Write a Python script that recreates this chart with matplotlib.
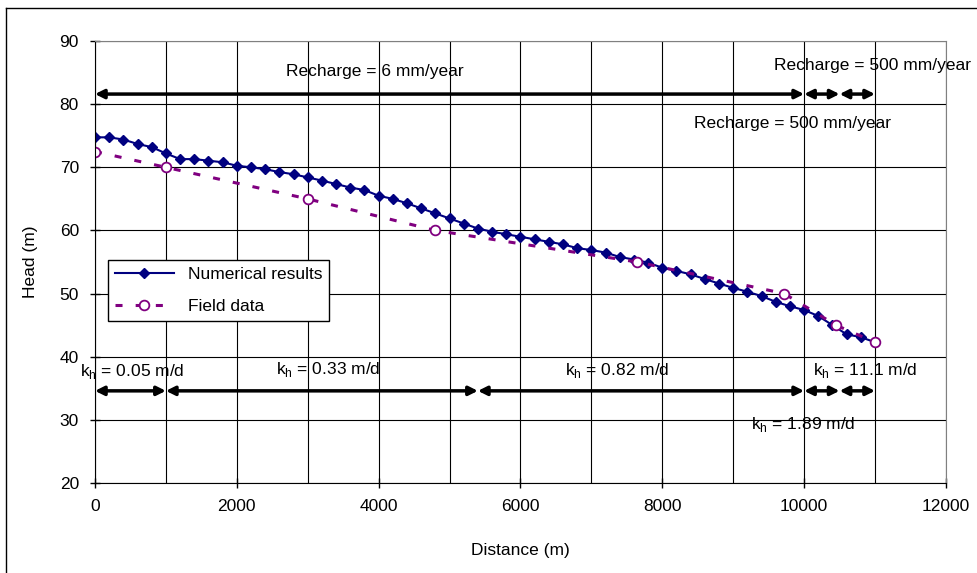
import matplotlib.pyplot as plt
from matplotlib.ticker import MultipleLocator
from matplotlib.lines import Line2D

plt.rcParams["font.family"] = ["Liberation Sans", "DejaVu Sans"]

# numerical results, every 200 m
numX = list(range(0, 11001, 200))
numY = [74.75, 74.75, 74.4, 73.7, 73.2, 72.2, 71.3, 71.3, 71.05, 70.8,
        70.25, 70.0, 69.7, 69.25, 68.9, 68.4, 67.9, 67.35, 66.8, 66.4,
        65.5, 65.0, 64.3, 63.5, 62.7, 61.9, 61.1, 60.3, 59.8, 59.4,
        59.0, 58.6, 58.2, 57.8, 57.2, 56.9, 56.5, 55.8, 55.4, 54.9,
        54.1, 53.6, 53.05, 52.3, 51.6, 50.9, 50.3, 49.6, 48.7, 48.0,
        47.4, 46.45, 45.0, 43.55, 43.1, 42.3]

# field data
fieldX = [0, 1000, 3000, 4800, 7650, 9720, 10450, 11000]
fieldY = [72.5, 70, 65, 60, 55, 50, 45, 42.3]

# zones (start, end)
rechargeZones = [(0, 10000), (10000, 10500), (10500, 11000)]
rechargeLevel = 81.6
khZones = [(0, 1000), (1000, 5400), (5400, 10000), (10000, 10500), (10500, 11000)]
khLevel = 34.6

fs = 12.5

fig = plt.figure(figsize=[9.77, 5.73], dpi=100)
ax = fig.add_axes([0.0972, 0.157, 0.871, 0.7714])

ax.plot(numX, numY, color="#000080", lw=1.5, marker="D", markersize=5.5,
        label="Numerical results")
ax.plot(fieldX, fieldY, color="#800080", lw=2.2, linestyle=(0, (2.3, 4.3)),
        marker="o", markersize=7, markerfacecolor="white",
        markeredgecolor="#800080", markeredgewidth=1.3, label="Field data")

for x0, x1 in rechargeZones:
    ax.annotate("", xy=(x1, rechargeLevel), xytext=(x0, rechargeLevel),
                arrowprops=dict(arrowstyle="<|-|>", color="black", lw=2.5,
                                mutation_scale=13, shrinkA=0, shrinkB=0))
for x0, x1 in khZones:
    ax.annotate("", xy=(x1, khLevel), xytext=(x0, khLevel),
                arrowprops=dict(arrowstyle="<|-|>", color="black", lw=2.5,
                                mutation_scale=13, shrinkA=0, shrinkB=0))

ax.text(3950, 85.1, "Recharge = 6 mm/year", fontsize=fs, ha="center", va="center")
ax.text(10960, 86.2, "Recharge = 500 mm/year", fontsize=fs, ha="center", va="center")
ax.text(9830, 76.9, "Recharge = 500 mm/year", fontsize=fs, ha="center", va="center")
ax.text(-211, 37.6, "k$_\\mathregular{h}$ = 0.05 m/d", fontsize=fs, ha="left", va="center")
ax.text(2550, 38.0, "k$_\\mathregular{h}$ = 0.33 m/d", fontsize=fs, ha="left", va="center")
ax.text(6627, 37.9, "k$_\\mathregular{h}$ = 0.82 m/d", fontsize=fs, ha="left", va="center")
ax.text(10124, 37.9, "k$_\\mathregular{h}$ = 11.1 m/d", fontsize=fs, ha="left", va="center")
ax.text(9245, 29.2, "k$_\\mathregular{h}$ = 1.89 m/d", fontsize=fs, ha="left", va="center")

ax.set_xlim(0, 12000)
ax.set_ylim(20, 90)
ax.xaxis.set_major_locator(MultipleLocator(2000))
ax.xaxis.set_minor_locator(MultipleLocator(1000))
ax.yaxis.set_major_locator(MultipleLocator(10))
ax.grid(True, which="both", color="black", lw=0.8)
ax.tick_params(which="major", direction="inout", length=7, width=1,
               labelsize=fs, pad=8)
ax.tick_params(which="minor", length=0)
ax.spines["top"].set_color("#808080")
ax.spines["right"].set_color("#808080")

ax.set_xlabel("Distance (m)", fontsize=fs)
ax.set_ylabel("Head (m)", fontsize=fs)
ax.xaxis.set_label_coords(0.5, -0.136)
ax.yaxis.set_label_coords(-0.067, 0.5)

leg = ax.legend(loc="upper left", bbox_to_anchor=(0.0153, 0.5045), borderaxespad=0,
                fontsize=fs, handlelength=3.4, labelspacing=0.95, fancybox=False,
                framealpha=1, edgecolor="black")
leg.get_frame().set_linewidth(1)

# outer chart border (left and top visible)
fig.add_artist(Line2D([6 / 977, 6 / 977], [0, 1 - 8 / 573], color="black", lw=1))
fig.add_artist(Line2D([6 / 977, 1], [1 - 8 / 573, 1 - 8 / 573], color="black", lw=1))

plt.savefig("out.png")
